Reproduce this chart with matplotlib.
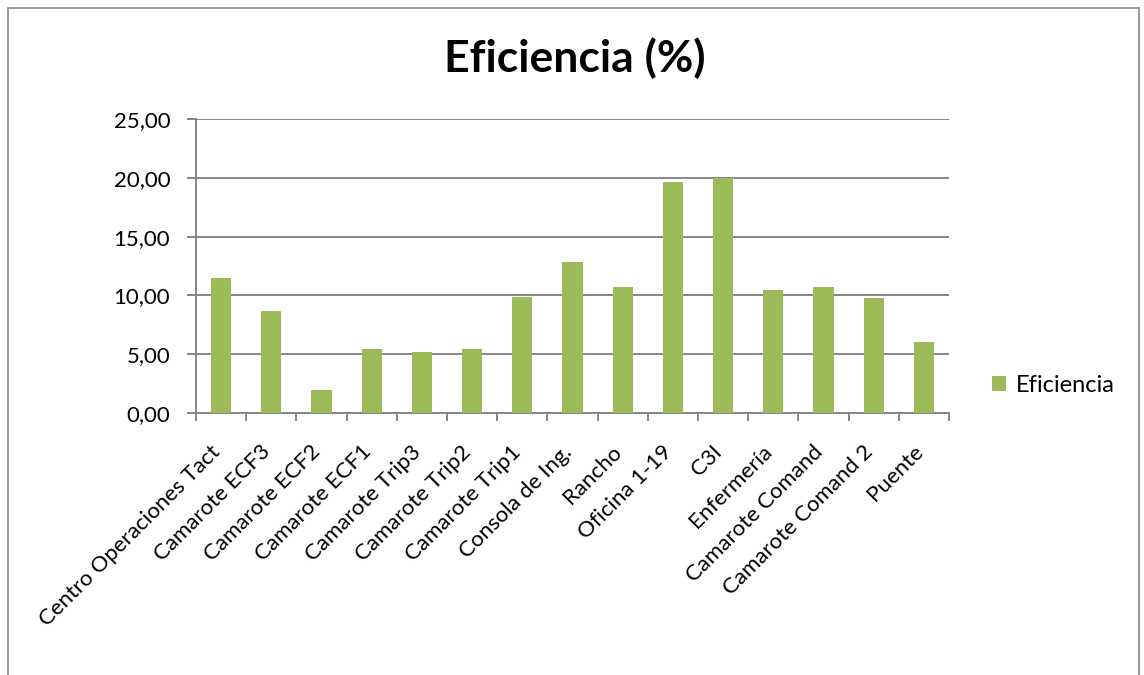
import numpy as np
import matplotlib.pyplot as plt
import matplotlib.transforms as mtransforms
from matplotlib.patches import Rectangle

plt.rcParams['font.family'] = ['Lato', 'DejaVu Sans']

lugares = ["Centro Operaciones Tact", "Camarote ECF3", "Camarote ECF2", "Camarote ECF1",
           "Camarote Trip3", "Camarote Trip2", "Camarote Trip1", "Consola de Ing.",
           "Rancho", "Oficina 1-19", "C3I", "Enfermería", "Camarote Comand",
           "Camarote Comand 2", "Puente"]
eficiencia = [11.45, 8.67, 1.93, 5.46, 5.15, 5.46, 9.84, 12.83,
              10.67, 19.62, 20.02, 10.44, 10.67, 9.76, 6.00]

fig = plt.figure(figsize=(11.44, 6.75), dpi=100)
# grey frame round the whole chart
fig.patches.append(Rectangle((8 / 1144, -0.01), 1131 / 1144, 1 - 8 / 675 + 0.01,
                             transform=fig.transFigure, fill=False,
                             edgecolor='#868686', linewidth=1.2))

ax = fig.add_axes([196 / 1144, 1 - 412.7 / 675, (949 - 196) / 1144, (412.7 - 119.3) / 675])
x = np.arange(len(lugares))
ax.bar(x, eficiencia, width=0.4, color='#9bbb59', label='Eficiencia', zorder=3)

ax.set_xlim(-0.5, len(lugares) - 0.5)
ax.set_ylim(0, 25)
yt = np.arange(0, 26, 5)
ax.set_yticks(yt)
ax.set_yticklabels([f"{v:.2f}".replace('.', ',') for v in yt], fontsize=16)
ax.yaxis.grid(True, color='#868686', linewidth=1.4, zorder=0)

# category names, slanted, hung under each bar
ax.set_xticks(x)
ax.set_xticklabels([])
shift = mtransforms.ScaledTranslation(-0.04, -0.36, fig.dpi_scale_trans)
for xi, name in zip(x, lugares):
    ax.text(xi, 0, name, rotation=45, ha='right', va='center', rotation_mode='anchor',
            fontsize=16, transform=ax.get_xaxis_transform() + shift)
ax.set_xticks(np.arange(-0.5, len(lugares)), minor=True)
ax.tick_params(axis='x', which='major', length=0)
ax.tick_params(axis='x', which='minor', length=6, color='#868686', width=1.4)
ax.tick_params(axis='y', length=6.5, color='#868686', width=1.4, pad=12)

for s in ['top', 'right']:
    ax.spines[s].set_visible(False)
for s in ['left', 'bottom']:
    ax.spines[s].set_color('#868686')
    ax.spines[s].set_linewidth(1.4)

fig.text(575 / 1144, 1 - 58 / 675, "Eficiencia (%)", ha='center', va='center',
         fontsize=32, fontweight='bold')
fig.legend(loc='center left', bbox_to_anchor=(971 / 1144, 1 - 385 / 675),
           frameon=False, fontsize=17, handlelength=0.6, handleheight=0.6,
           handletextpad=0.4)

plt.savefig('out.png', dpi=100)
